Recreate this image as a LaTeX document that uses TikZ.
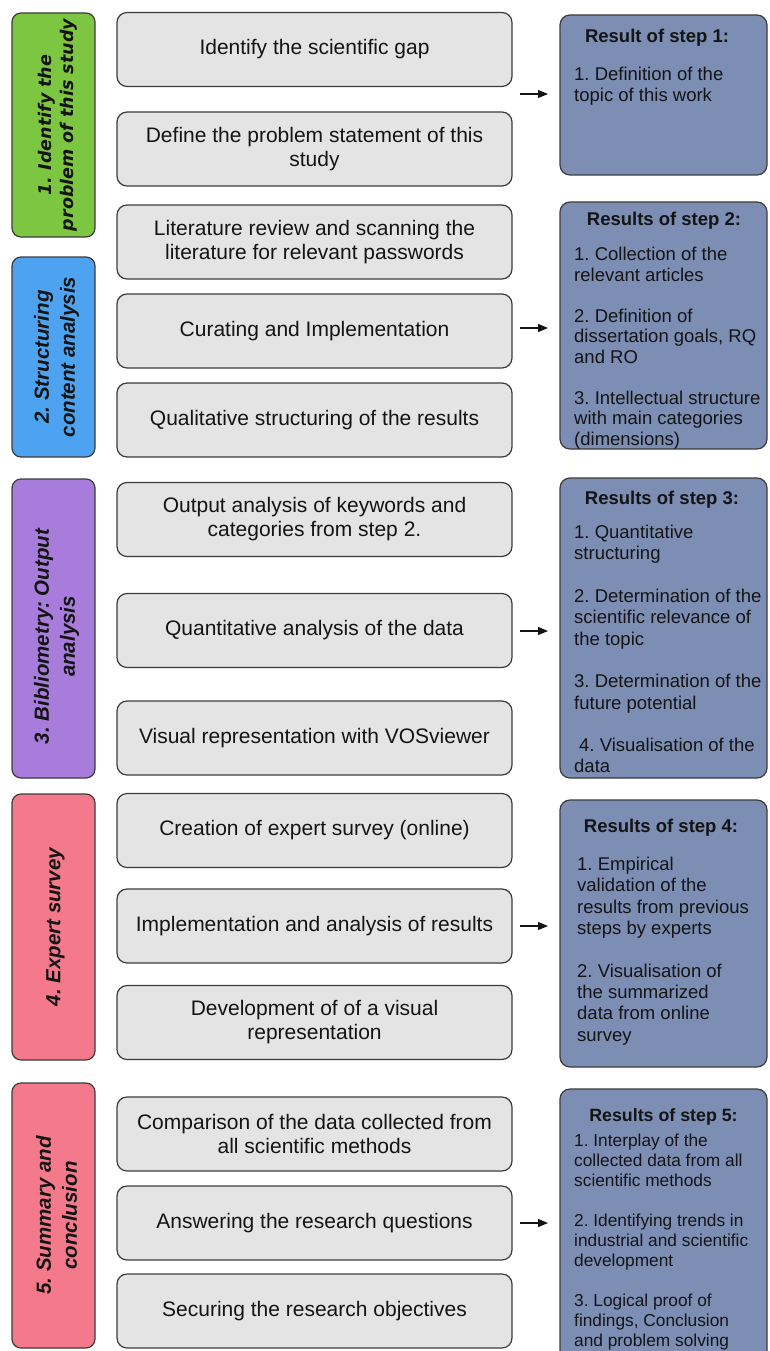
\documentclass[tikz,border=0pt]{standalone}
\usepackage{fontspec}
\setmainfont{Liberation Sans}
\newfontfamily\stepfont{DejaVu Sans}[BoldItalicFont={DejaVu Sans Bold Oblique}]
\usetikzlibrary{arrows.meta}
\frenchspacing

\definecolor{ink}{RGB}{20,20,20}
\definecolor{edge}{RGB}{60,60,60}
\definecolor{boxgrey}{RGB}{228,228,228}
\definecolor{resblue}{RGB}{124,142,180}
\definecolor{stepgreen}{RGB}{125,198,66}
\definecolor{stepblue}{RGB}{77,163,240}
\definecolor{steppurple}{RGB}{168,124,218}
\definecolor{steppink}{RGB}{244,122,139}

\begin{document}
\begin{tikzpicture}[x=1pt,y=-1pt,
  every node/.style={text=ink},
  midbox/.style={draw=edge, fill=boxgrey, line width=1.2pt, rounded corners=10pt,
    minimum width=395pt, minimum height=74pt, inner sep=0pt, align=center,
    font=\fontsize{21}{24}\selectfont},
  barbox/.style={draw=edge, line width=1.2pt, rounded corners=9pt,
    minimum width=83pt, inner sep=0pt},
  bartext/.style={rotate=90, align=center, inner sep=0pt,
    font=\fontsize{20.5}{26}\selectfont\bfseries\itshape},
  resbox/.style={draw=edge, fill=resblue, line width=1.2pt, rounded corners=10pt,
    minimum width=207pt, inner sep=0pt},
  restitle/.style={inner sep=0pt, font=\fontsize{18.5}{21.3}\selectfont\bfseries},
  resbody/.style={anchor=north west, align=left, inner sep=0pt,
    font=\fontsize{18.5}{21.3}\selectfont},
  arr/.style={draw=ink, line width=1.1pt, -{Triangle[length=10pt,width=8pt]}}
]
\useasboundingbox (0,0) rectangle (769,1351);
\clip (0,0) rectangle (769,1351);
\fill[white] (0,0) rectangle (769,1351);

% ---------- step bars ----------
\node[barbox, fill=stepgreen,  minimum height=224pt] (b1) at (53.5,125) {};
\node[barbox, fill=stepblue,   minimum height=200pt] (b2) at (53.5,357) {};
\node[barbox, fill=steppurple, minimum height=299pt] (b3) at (53.5,628.5) {};
\node[barbox, fill=steppink,   minimum height=266pt] (b4) at (53.5,927) {};
\node[barbox, fill=steppink,   minimum height=265pt] (b5) at (53.5,1215.5) {};

\node[bartext, font=\stepfont\fontsize{17.5}{22}\selectfont\bfseries\itshape] (l1) at ([xshift=4pt]b1.center) {1. Identify the\\problem of this study};
\node[bartext] (l2) at ([xshift=3pt]b2.center) {2. Structuring\\content analysis};
\node[bartext] (l3) at ([xshift=3pt,yshift=-8pt]b3.center) {3. Bibliometry: Output\\analysis};
\node[bartext] (l4) at ([xshift=2pt]b4.center) {4. Expert survey};
\node[bartext] (l5) at ([xshift=3pt]b5.center) {5. Summary and\\conclusion};

% ---------- activities ----------
\node[midbox] (m11) at (314.5,49.5) {Identify the scientific gap};
\node[midbox] (m12) at (314.5,149) {Define the problem statement of this\\study};

\node[midbox] (m21) at (314.5,242) {Literature review and scanning the\\literature for relevant passwords};
\node[midbox] (m22) at (314.5,331) {Curating and Implementation};
\node[midbox] (m23) at (314.5,420) {Qualitative structuring of the results};

\node[midbox] (m31) at (314.5,519.5) {Output analysis of keywords and\\categories from step 2.};
\node[midbox] (m32) at (314.5,630.5) {Quantitative analysis of the data};
\node[midbox] (m33) at (314.5,738) {Visual representation with VOSviewer};

\node[midbox] (m41) at (314.5,830.5) {Creation of expert survey (online)};
\node[midbox] (m42) at (314.5,926) {Implementation and analysis of results};
\node[midbox] (m43) at (314.5,1022.5) {Development of of a visual\\representation};

\node[midbox] (m51) at (314.5,1134) {Comparison of the data collected from\\all scientific methods};
\node[midbox] (m52) at (314.5,1223) {Answering the research questions};
\node[midbox] (m53) at (314.5,1311) {Securing the research objectives};

% ---------- results ----------
\node[resbox, minimum height=160pt] (r1) at (663.5,95) {};
\node[resbox, minimum height=247pt] (r2) at (663.5,325.5) {};
\node[resbox, minimum height=300pt] (r3) at (663.5,628) {};
\node[resbox, minimum height=267pt] (r4) at (663.5,933.5) {};
\node[resbox, minimum height=291pt] (r5) at (663.5,1234.5) {};

\node[restitle] (t1) at (657,38) {Result of step 1:};
\node[restitle] (t2) at (664,221) {Results of step 2:};
\node[restitle] (t3) at (662,500) {Results of step 3:};
\node[restitle] (t4) at (661,828) {Results of step 4:};
\node[restitle, font=\fontsize{17.8}{20}\selectfont\bfseries] (t5) at (663.5,1117) {Results of step 5:};

\node[resbody] (x1) at (574,67) {1. Definition of the\\topic of this work};
\node[resbody, font=\fontsize{18.5}{20.5}\selectfont] (x2) at (574,247) {1. Collection of the\\relevant articles\\[20.5pt]2. Definition of\\dissertation goals, RQ\\and RO\\[20.5pt]3. Intellectual structure\\with main categories\\(dimensions)};
\node[resbody] (x3) at (574,525) {1. Quantitative\\structuring\\[21.3pt]2. Determination of the\\scientific relevance of\\the topic\\[21.3pt]3. Determination of the\\future potential\\[21.3pt]\hspace*{5pt}4. Visualisation of the\\data};
\node[resbody] (x4) at (577,857) {1. Empirical\\validation of the\\results from previous\\steps by experts\\[21.3pt]2. Visualisation of\\the summarized\\data from online\\survey};
\node[resbody, font=\fontsize{17.3}{20}\selectfont] (x5) at (574,1133.5) {1. Interplay of the\\collected data from all\\scientific methods\\[20pt]2. Identifying trends in\\industrial and scientific\\development\\[20pt]3. Logical proof of\\findings, Conclusion\\and problem solving};

% ---------- arrows into the result boxes ----------
\coordinate (a1s) at (520,94);   \coordinate (a1e) at (548,94);
\coordinate (a2s) at (520,328);  \coordinate (a2e) at (548,328);
\coordinate (a3s) at (520,631);  \coordinate (a3e) at (548,631);
\coordinate (a4s) at (520,926);  \coordinate (a4e) at (548,926);
\coordinate (a5s) at (520,1223); \coordinate (a5e) at (548,1223);
\foreach \i in {1,...,5}{\draw[arr] (a\i s) -- (a\i e);}
\end{tikzpicture}
\end{document}
